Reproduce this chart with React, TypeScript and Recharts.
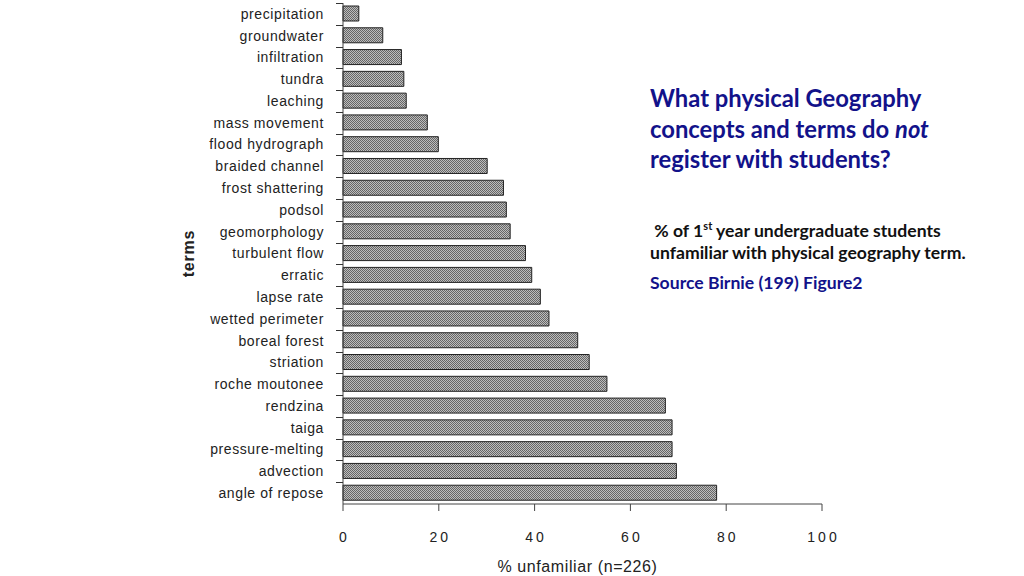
import { BarChart, Bar, XAxis, YAxis, Label } from "recharts"

const terms = [
  "precipitation",
  "groundwater",
  "infiltration",
  "tundra",
  "leaching",
  "mass movement",
  "flood hydrograph",
  "braided channel",
  "frost shattering",
  "podsol",
  "geomorphology",
  "turbulent flow",
  "erratic",
  "lapse rate",
  "wetted perimeter",
  "boreal forest",
  "striation",
  "roche moutonee",
  "rendzina",
  "taiga",
  "pressure-melting",
  "advection",
  "angle of repose",
]

const unfamiliar = [
  3.3, 8.3, 12.2, 12.7, 13.2, 17.6, 19.9, 30.1, 33.5, 34.1, 34.9, 38.1, 39.4, 41.2, 43.0, 49.0, 51.4,
  55.1, 67.3, 68.7, 68.7, 69.6, 78.0,
]

const xTicks = [0, 20, 40, 60, 80, 100]

const data = terms.map((term, i) => ({ term, value: unfamiliar[i] }))

const W = 1024
const H = 576
const AXIS_X = 343
const TOP = 3
const X_AXIS_H = 72
const band = (H - TOP - X_AXIS_H) / terms.length

const labelFont = "'Liberation Sans', Arial, Helvetica, sans-serif"
const slideFont = "Lato, 'Open Sans', sans-serif"

function TermTick(props: any) {
  const { x, y, payload } = props
  const ty = Math.round(y - band / 2) + 0.5
  return (
    <g>
      <line x1={AXIS_X - 7} x2={AXIS_X} y1={ty} y2={ty} stroke="#333" strokeWidth={1} />
      <text
        x={x}
        y={y}
        dy="0.35em"
        textAnchor="end"
        fontSize={14}
        letterSpacing={0.6}
        fill="#222"
        fontFamily={labelFont}
      >
        {payload.value}
      </text>
    </g>
  )
}

export default function App() {
  return (
    <div style={{ position: "absolute", left: 0, top: 0, width: W, height: H, background: "#fff" }}>
      <BarChart
        width={W}
        height={H}
        data={data}
        layout="vertical"
        margin={{ top: TOP, right: W - 822, left: 0, bottom: 0 }}
      >
        <defs>
          <pattern id="stipple" width="2" height="2" patternUnits="userSpaceOnUse">
            <rect width="2" height="2" fill="#bdbdbd" />
            <rect width="1" height="1" fill="#666" />
            <rect x="1" y="1" width="1" height="1" fill="#666" />
          </pattern>
        </defs>
        <XAxis
          type="number"
          domain={[0, 100]}
          ticks={xTicks}
          height={X_AXIS_H}
          tickSize={7}
          tickMargin={21}
          stroke="#444"
          tick={{ fontSize: 14, fill: "#222", fontFamily: labelFont, letterSpacing: 3, dx: 1.5 }}
        >
          <Label
            value="% unfamiliar (n=226)"
            position="insideBottom"
            offset={4}
            dx={-5}
            style={{ fontSize: 16, fill: "#222", fontFamily: labelFont, letterSpacing: 0.6 }}
          />
        </XAxis>
        <YAxis
          type="category"
          dataKey="term"
          width={AXIS_X}
          tickLine={false}
          tickSize={7}
          tickMargin={12}
          stroke="#444"
          interval={0}
          tick={<TermTick />}
        >
          <Label
            content={(p: any) => {
              const vb = p.viewBox
              const cy = vb.y + vb.height / 2
              return (
                <text
                  x={188}
                  y={cy}
                  transform={`rotate(-90, 188, ${cy})`}
                  textAnchor="middle"
                  dominantBaseline="central"
                  fontSize={16}
                  fontWeight="bold"
                  letterSpacing={0.8}
                  fill="#222"
                  fontFamily={labelFont}
                >
                  terms
                </text>
              )
            }}
          />
        </YAxis>
        <Bar dataKey="value" barSize={15} fill="url(#stipple)" stroke="#222" strokeWidth={1} isAnimationActive={false} />
      </BarChart>

      <div
        style={{
          position: "absolute",
          left: 650,
          top: 83,
          fontFamily: slideFont,
          fontWeight: "bold",
          fontSize: 23.8,
          lineHeight: "30.5px",
          color: "#12128a",
        }}
      >
        What physical Geography
        <br />
        concepts and terms do <i>not</i>
        <br />
        register with students?
      </div>

      <div
        style={{
          position: "absolute",
          left: 650,
          top: 220,
          fontFamily: slideFont,
          fontWeight: "bold",
          fontSize: 17.6,
          lineHeight: "22px",
          color: "#111",
        }}
      >
        &nbsp;% of 1<sup style={{ fontSize: 11, lineHeight: 0 }}>st</sup> year undergraduate students
        <br />
        unfamiliar with physical geography term.
      </div>

      <div
        style={{
          position: "absolute",
          left: 650,
          top: 272,
          fontFamily: slideFont,
          fontWeight: "bold",
          fontSize: 17.6,
          lineHeight: "22px",
          color: "#12128a",
        }}
      >
        Source Birnie (199) Figure2
      </div>
    </div>
  )
}
